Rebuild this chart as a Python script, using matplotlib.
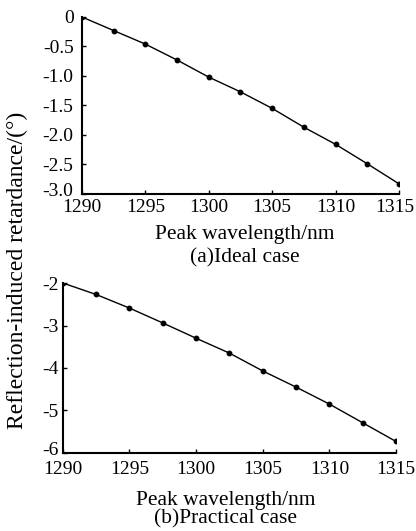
import matplotlib
matplotlib.use("Agg")
import matplotlib.pyplot as plt
from matplotlib.transforms import ScaledTranslation

plt.rcParams['font.family'] = ['Liberation Serif', 'DejaVu Serif']

wavelength = [1290, 1292.5, 1295, 1297.5, 1300, 1302.5, 1305, 1307.5, 1310, 1312.5, 1315]
ideal = [0.0, -0.23, -0.46, -0.73, -1.02, -1.27, -1.55, -1.87, -2.16, -2.49, -2.83]
practical = [-2.0, -2.27, -2.59, -2.94, -3.30, -3.65, -4.07, -4.45, -4.85, -5.29, -5.73]

xticks = [1290, 1295, 1300, 1305, 1310, 1315]
yticks_a = [0, -0.5, -1.0, -1.5, -2.0, -2.5, -3.0]
ylabels_a = ['0', '-0.5', '-1.0', '-1.5', '-2.0', '-2.5', '-3.0']
yticks_b = [-2, -3, -4, -5, -6]
ylabels_b = ['-2', '-3', '-4', '-5', '-6']

fig = plt.figure(figsize=(4.16, 5.31), dpi=100)
ax1 = fig.add_axes([0.197, 0.635, 0.762, 0.333])
ax2 = fig.add_axes([0.151, 0.147, 0.801, 0.320])


def shift(label, dx, dy):
    # nudge a tick label by a few pixels
    label.set_transform(label.get_transform()
                        + ScaledTranslation(dx / 100, dy / 100, fig.dpi_scale_trans))


def style(ax, data, yticks, ylabels, ylim, xpad, ypad):
    ax.plot(wavelength, data, color='black', lw=1.0, marker='o', ms=3.2)
    ax.set_xlim(1290, 1315)
    ax.set_ylim(*ylim)
    ax.set_xticks(xticks)
    ax.set_yticks(yticks)
    ax.set_yticklabels(ylabels)
    for s in ['top', 'right']:
        ax.spines[s].set_visible(False)
    for s in ['left', 'bottom']:
        ax.spines[s].set_linewidth(1.5)
    ax.tick_params(direction='in', length=3, width=1, labelsize=14)
    ax.tick_params(axis='x', pad=xpad)
    ax.tick_params(axis='y', pad=ypad)
    shift(ax.get_yticklabels()[-1], 0, 4)


style(ax1, ideal, yticks_a, ylabels_a, (-3.0, 0), 4, 6)
style(ax2, practical, yticks_b, ylabels_b, (-6, -2), 6, 3)

# the last label of the top panel sits a little inward so it is not clipped
shift(ax1.get_xticklabels()[-1], -4, 0)

fig.text(0.589, 1 - 235 / 531, 'Peak wavelength/nm', ha='center', va='center', fontsize=15.5)
fig.text(0.589, 1 - 258 / 531, '(a)Ideal case', ha='center', va='center', fontsize=15.5)
fig.text(0.543, 1 - 500 / 531, 'Peak wavelength/nm', ha='center', va='center', fontsize=15.5)
fig.text(0.543, 1 - 519 / 531, '(b)Practical case', ha='center', va='center', fontsize=15.5)
fig.text(0.043, 1 - 270 / 531, 'Reflection-induced retardance/(°)', rotation=90,
         ha='center', va='center', fontsize=17)

fig.savefig('out.png', dpi=100)
